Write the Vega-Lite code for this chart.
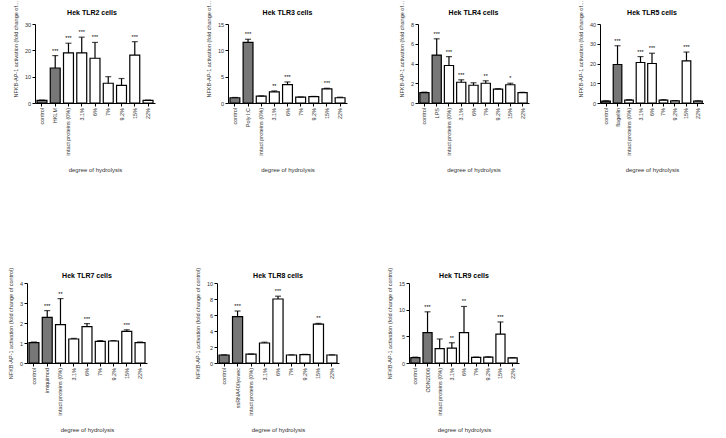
{
  "$schema": "https://vega.github.io/schema/vega-lite/v6.json",
  "padding": {"left": 8, "top": 0, "right": 0, "bottom": 0},
  "background": "white",
  "data": {"values": [
    {"p": "TLR2", "lab": "control", "v": 1.0, "e": 1.1, "s": "", "t": "ctrl"},
    {"p": "TLR2", "lab": "HKLM", "v": 13.3, "e": 18, "s": "***", "t": "ctrl"},
    {"p": "TLR2", "lab": "intact proteins (0%)", "v": 19, "e": 22.7, "s": "***", "t": "sample"},
    {"p": "TLR2", "lab": "3.1%", "v": 19, "e": 25, "s": "***", "t": "sample"},
    {"p": "TLR2", "lab": "6%", "v": 17, "e": 23, "s": "***", "t": "sample"},
    {"p": "TLR2", "lab": "7%", "v": 7.5, "e": 10, "s": "", "t": "sample"},
    {"p": "TLR2", "lab": "9.2%", "v": 6.7, "e": 9.3, "s": "", "t": "sample"},
    {"p": "TLR2", "lab": "15%", "v": 18.2, "e": 23.3, "s": "***", "t": "sample"},
    {"p": "TLR2", "lab": "22%", "v": 1.0, "e": 1.1, "s": "", "t": "sample"},

    {"p": "TLR3", "lab": "control", "v": 1.0, "e": 1.05, "s": "", "t": "ctrl"},
    {"p": "TLR3", "lab": "Poly I:C", "v": 11.5, "e": 12.1, "s": "***", "t": "ctrl"},
    {"p": "TLR3", "lab": "intact proteins (0%)", "v": 1.3, "e": 1.35, "s": "", "t": "sample"},
    {"p": "TLR3", "lab": "3.1%", "v": 2.1, "e": 2.3, "s": "**", "t": "sample"},
    {"p": "TLR3", "lab": "6%", "v": 3.5, "e": 4.0, "s": "***", "t": "sample"},
    {"p": "TLR3", "lab": "7%", "v": 1.1, "e": 1.15, "s": "", "t": "sample"},
    {"p": "TLR3", "lab": "9.2%", "v": 1.2, "e": 1.25, "s": "", "t": "sample"},
    {"p": "TLR3", "lab": "15%", "v": 2.7, "e": 2.8, "s": "***", "t": "sample"},
    {"p": "TLR3", "lab": "22%", "v": 1.0, "e": 1.1, "s": "", "t": "sample"},

    {"p": "TLR4", "lab": "control", "v": 1.05, "e": 1.1, "s": "", "t": "ctrl"},
    {"p": "TLR4", "lab": "LPS", "v": 4.85, "e": 6.5, "s": "***", "t": "ctrl"},
    {"p": "TLR4", "lab": "intact proteins (0%)", "v": 3.8, "e": 4.7, "s": "***", "t": "sample"},
    {"p": "TLR4", "lab": "3.1%", "v": 2.1, "e": 2.35, "s": "***", "t": "sample"},
    {"p": "TLR4", "lab": "6%", "v": 1.8, "e": 2.05, "s": "", "t": "sample"},
    {"p": "TLR4", "lab": "7%", "v": 2.0, "e": 2.25, "s": "**", "t": "sample"},
    {"p": "TLR4", "lab": "9.2%", "v": 1.4, "e": 1.45, "s": "", "t": "sample"},
    {"p": "TLR4", "lab": "15%", "v": 1.85, "e": 2.0, "s": "*", "t": "sample"},
    {"p": "TLR4", "lab": "22%", "v": 1.05, "e": 1.08, "s": "", "t": "sample"},

    {"p": "TLR5", "lab": "control", "v": 1.0, "e": 1.1, "s": "", "t": "ctrl"},
    {"p": "TLR5", "lab": "flagellin", "v": 19.5, "e": 29, "s": "***", "t": "ctrl"},
    {"p": "TLR5", "lab": "intact proteins (0%)", "v": 1.5, "e": 1.7, "s": "", "t": "sample"},
    {"p": "TLR5", "lab": "3.1%", "v": 20.5, "e": 23.5, "s": "***", "t": "sample"},
    {"p": "TLR5", "lab": "6%", "v": 20, "e": 25.2, "s": "***", "t": "sample"},
    {"p": "TLR5", "lab": "7%", "v": 1.5, "e": 1.7, "s": "", "t": "sample"},
    {"p": "TLR5", "lab": "9.2%", "v": 1.1, "e": 1.2, "s": "", "t": "sample"},
    {"p": "TLR5", "lab": "15%", "v": 21.3, "e": 25.8, "s": "***", "t": "sample"},
    {"p": "TLR5", "lab": "22%", "v": 1.0, "e": 1.1, "s": "", "t": "sample"},

    {"p": "TLR7", "lab": "control", "v": 1.02, "e": 1.05, "s": "", "t": "ctrl"},
    {"p": "TLR7", "lab": "imiquimod", "v": 2.28, "e": 2.62, "s": "***", "t": "ctrl"},
    {"p": "TLR7", "lab": "intact proteins (0%)", "v": 1.92, "e": 3.22, "s": "**", "t": "sample"},
    {"p": "TLR7", "lab": "3.1%", "v": 1.2, "e": 1.23, "s": "", "t": "sample"},
    {"p": "TLR7", "lab": "6%", "v": 1.82, "e": 1.97, "s": "***", "t": "sample"},
    {"p": "TLR7", "lab": "7%", "v": 1.08, "e": 1.12, "s": "", "t": "sample"},
    {"p": "TLR7", "lab": "9.2%", "v": 1.1, "e": 1.12, "s": "", "t": "sample"},
    {"p": "TLR7", "lab": "15%", "v": 1.58, "e": 1.66, "s": "***", "t": "sample"},
    {"p": "TLR7", "lab": "22%", "v": 1.02, "e": 1.05, "s": "", "t": "sample"},

    {"p": "TLR8", "lab": "control", "v": 1.0, "e": 1.02, "s": "", "t": "ctrl"},
    {"p": "TLR8", "lab": "ssRNA40/lyovec", "v": 5.8, "e": 6.5, "s": "***", "t": "ctrl"},
    {"p": "TLR8", "lab": "intact proteins (0%)", "v": 1.1, "e": 1.12, "s": "", "t": "sample"},
    {"p": "TLR8", "lab": "3.1%", "v": 2.5, "e": 2.6, "s": "", "t": "sample"},
    {"p": "TLR8", "lab": "6%", "v": 8.0, "e": 8.35, "s": "***", "t": "sample"},
    {"p": "TLR8", "lab": "7%", "v": 1.0, "e": 1.02, "s": "", "t": "sample"},
    {"p": "TLR8", "lab": "9.2%", "v": 1.05, "e": 1.08, "s": "", "t": "sample"},
    {"p": "TLR8", "lab": "15%", "v": 4.85, "e": 4.95, "s": "**", "t": "sample"},
    {"p": "TLR8", "lab": "22%", "v": 1.0, "e": 1.02, "s": "", "t": "sample"},

    {"p": "TLR9", "lab": "control", "v": 1.0, "e": 1.1, "s": "", "t": "ctrl"},
    {"p": "TLR9", "lab": "ODN2006", "v": 5.7, "e": 9.6, "s": "***", "t": "ctrl"},
    {"p": "TLR9", "lab": "intact proteins (0%)", "v": 2.7, "e": 4.5, "s": "", "t": "sample"},
    {"p": "TLR9", "lab": "3.1%", "v": 2.8, "e": 3.8, "s": "**", "t": "sample"},
    {"p": "TLR9", "lab": "6%", "v": 5.7, "e": 10.6, "s": "**", "t": "sample"},
    {"p": "TLR9", "lab": "7%", "v": 1.05, "e": 1.1, "s": "", "t": "sample"},
    {"p": "TLR9", "lab": "9.2%", "v": 1.1, "e": 1.15, "s": "", "t": "sample"},
    {"p": "TLR9", "lab": "15%", "v": 5.4, "e": 7.7, "s": "***", "t": "sample"},
    {"p": "TLR9", "lab": "22%", "v": 0.95, "e": 1.0, "s": "", "t": "sample"}
  ]},
  "vconcat": [
    {
      "hconcat": [
        {
          "width": 130, "height": 79,
          "title": "Hek TLR2 cells",
          "transform": [{"filter": "datum.p == 'TLR2'"}],
          "encoding": {
            "x": {"field": "lab", "type": "nominal", "sort": null, "scale": {"range": [8, 128], "paddingInner": 0.25, "paddingOuter": 0.15}, "axis": {"title": "degree of hydrolysis"}},
            "y": {"field": "v", "type": "quantitative", "scale": {"domain": [0, 30], "nice": false}, "axis": {"values": [0, 10, 20, 30], "offset": -8, "titleY": 73, "titleAlign": "left", "titleLimit": 97, "title": "NFKB-AP-1 activation (fold change of control)"}}
          },
          "layer": [
            {"mark": {"type": "bar", "stroke": "black", "strokeWidth": 1.2},
             "encoding": {"fill": {"field": "t", "type": "nominal", "scale": {"domain": ["ctrl", "sample"], "range": ["#777777", "#ffffff"]}, "legend": null}}},
            {"mark": {"type": "rule", "color": "black", "strokeWidth": 1.2}, "encoding": {"y2": {"field": "e"}}},
            {"mark": {"type": "tick", "color": "black", "size": 6, "thickness": 1.2}, "encoding": {"y": {"field": "e", "type": "quantitative", "axis": {"values": [0, 10, 20, 30], "offset": -8, "titleY": 73, "titleAlign": "left", "titleLimit": 97, "title": "NFKB-AP-1 activation (fold change of control)"}}}},
            {"mark": {"type": "text", "fontSize": 5.5, "dy": -3, "baseline": "alphabetic", "color": "black"}, "encoding": {"y": {"field": "e", "type": "quantitative", "axis": {"values": [0, 10, 20, 30], "offset": -8, "titleY": 73, "titleAlign": "left", "titleLimit": 97, "title": "NFKB-AP-1 activation (fold change of control)"}}, "text": {"field": "s"}}}
          ]
        },
        {
          "width": 119, "height": 79,
          "title": "Hek TLR3 cells",
          "transform": [{"filter": "datum.p == 'TLR3'"}],
          "encoding": {
            "x": {"field": "lab", "type": "nominal", "sort": null, "scale": {"paddingInner": 0.25, "paddingOuter": 0.15}, "axis": {"title": "degree of hydrolysis"}},
            "y": {"field": "v", "type": "quantitative", "scale": {"domain": [0, 15], "nice": false}, "axis": {"values": [0, 5, 10, 15], "titleY": 73, "titleAlign": "left", "titleLimit": 97, "title": "NFKB-AP-1 activation (fold change of control)"}}
          },
          "layer": [
            {"mark": {"type": "bar", "stroke": "black", "strokeWidth": 1.2},
             "encoding": {"fill": {"field": "t", "type": "nominal", "scale": {"domain": ["ctrl", "sample"], "range": ["#777777", "#ffffff"]}, "legend": null}}},
            {"mark": {"type": "rule", "color": "black", "strokeWidth": 1.2}, "encoding": {"y2": {"field": "e"}}},
            {"mark": {"type": "tick", "color": "black", "size": 6, "thickness": 1.2}, "encoding": {"y": {"field": "e", "type": "quantitative", "axis": {"values": [0, 5, 10, 15], "titleY": 73, "titleAlign": "left", "titleLimit": 97, "title": "NFKB-AP-1 activation (fold change of control)"}}}},
            {"mark": {"type": "text", "fontSize": 5.5, "dy": -3, "baseline": "alphabetic", "color": "black"}, "encoding": {"y": {"field": "e", "type": "quantitative", "axis": {"values": [0, 5, 10, 15], "titleY": 73, "titleAlign": "left", "titleLimit": 97, "title": "NFKB-AP-1 activation (fold change of control)"}}, "text": {"field": "s"}}}
          ]
        },
        {
          "width": 111, "height": 79,
          "title": "Hek TLR4 cells",
          "transform": [{"filter": "datum.p == 'TLR4'"}],
          "encoding": {
            "x": {"field": "lab", "type": "nominal", "sort": null, "scale": {"paddingInner": 0.25, "paddingOuter": 0.15}, "axis": {"title": "degree of hydrolysis"}},
            "y": {"field": "v", "type": "quantitative", "scale": {"domain": [0, 8], "nice": false}, "axis": {"values": [0, 2, 4, 6, 8], "titleY": 73, "titleAlign": "left", "titleLimit": 97, "title": "NFKB-AP-1 activation (fold change of control)"}}
          },
          "layer": [
            {"mark": {"type": "bar", "stroke": "black", "strokeWidth": 1.2},
             "encoding": {"fill": {"field": "t", "type": "nominal", "scale": {"domain": ["ctrl", "sample"], "range": ["#777777", "#ffffff"]}, "legend": null}}},
            {"mark": {"type": "rule", "color": "black", "strokeWidth": 1.2}, "encoding": {"y2": {"field": "e"}}},
            {"mark": {"type": "tick", "color": "black", "size": 6, "thickness": 1.2}, "encoding": {"y": {"field": "e", "type": "quantitative", "axis": {"values": [0, 2, 4, 6, 8], "titleY": 73, "titleAlign": "left", "titleLimit": 97, "title": "NFKB-AP-1 activation (fold change of control)"}}}},
            {"mark": {"type": "text", "fontSize": 5.5, "dy": -3, "baseline": "alphabetic", "color": "black"}, "encoding": {"y": {"field": "e", "type": "quantitative", "axis": {"values": [0, 2, 4, 6, 8], "titleY": 73, "titleAlign": "left", "titleLimit": 97, "title": "NFKB-AP-1 activation (fold change of control)"}}, "text": {"field": "s"}}}
          ]
        },
        {
          "width": 104, "height": 79,
          "title": "Hek TLR5 cells",
          "transform": [{"filter": "datum.p == 'TLR5'"}],
          "encoding": {
            "x": {"field": "lab", "type": "nominal", "sort": null, "scale": {"paddingInner": 0.25, "paddingOuter": 0.15}, "axis": {"title": "degree of hydrolysis"}},
            "y": {"field": "v", "type": "quantitative", "scale": {"domain": [0, 40], "nice": false}, "axis": {"values": [0, 10, 20, 30, 40], "titleY": 73, "titleAlign": "left", "titleLimit": 97, "title": "NFKB-AP-1 activation (fold change of control)"}}
          },
          "layer": [
            {"mark": {"type": "bar", "stroke": "black", "strokeWidth": 1.2},
             "encoding": {"fill": {"field": "t", "type": "nominal", "scale": {"domain": ["ctrl", "sample"], "range": ["#777777", "#ffffff"]}, "legend": null}}},
            {"mark": {"type": "rule", "color": "black", "strokeWidth": 1.2}, "encoding": {"y2": {"field": "e"}}},
            {"mark": {"type": "tick", "color": "black", "size": 6, "thickness": 1.2}, "encoding": {"y": {"field": "e", "type": "quantitative", "axis": {"values": [0, 10, 20, 30, 40], "titleY": 73, "titleAlign": "left", "titleLimit": 97, "title": "NFKB-AP-1 activation (fold change of control)"}}}},
            {"mark": {"type": "text", "fontSize": 5.5, "dy": -3, "baseline": "alphabetic", "color": "black"}, "encoding": {"y": {"field": "e", "type": "quantitative", "axis": {"values": [0, 10, 20, 30, 40], "titleY": 73, "titleAlign": "left", "titleLimit": 97, "title": "NFKB-AP-1 activation (fold change of control)"}}, "text": {"field": "s"}}}
          ]
        }
      ],
      "spacing": 71,
      "bounds": "flush"
    },
    {
      "hconcat": [
        {
          "width": 120, "height": 80,
          "title": {"text": "Hek TLR7 cells", "offset": -12},
          "transform": [{"filter": "datum.p == 'TLR7'"}],
          "encoding": {
            "x": {"field": "lab", "type": "nominal", "sort": null, "scale": {"paddingInner": 0.25, "paddingOuter": 0.15}, "axis": {"title": "degree of hydrolysis"}},
            "y": {"field": "v", "type": "quantitative", "scale": {"domain": [0, 4], "nice": false}, "axis": {"values": [0, 1, 2, 3, 4], "title": "NFKB-AP-1 activation (fold change of control)"}}
          },
          "layer": [
            {"mark": {"type": "bar", "stroke": "black", "strokeWidth": 1.2},
             "encoding": {"fill": {"field": "t", "type": "nominal", "scale": {"domain": ["ctrl", "sample"], "range": ["#777777", "#ffffff"]}, "legend": null}}},
            {"mark": {"type": "rule", "color": "black", "strokeWidth": 1.2}, "encoding": {"y2": {"field": "e"}}},
            {"mark": {"type": "tick", "color": "black", "size": 6, "thickness": 1.2}, "encoding": {"y": {"field": "e", "type": "quantitative", "axis": {"values": [0, 1, 2, 3, 4], "title": "NFKB-AP-1 activation (fold change of control)"}}}},
            {"mark": {"type": "text", "fontSize": 5.5, "dy": -3, "baseline": "alphabetic", "color": "black"}, "encoding": {"y": {"field": "e", "type": "quantitative", "axis": {"values": [0, 1, 2, 3, 4], "title": "NFKB-AP-1 activation (fold change of control)"}}, "text": {"field": "s"}}}
          ]
        },
        {
          "width": 122, "height": 80,
          "title": {"text": "Hek TLR8 cells", "offset": -12},
          "transform": [{"filter": "datum.p == 'TLR8'"}],
          "encoding": {
            "x": {"field": "lab", "type": "nominal", "sort": null, "scale": {"paddingInner": 0.25, "paddingOuter": 0.15}, "axis": {"title": "degree of hydrolysis"}},
            "y": {"field": "v", "type": "quantitative", "scale": {"domain": [0, 10], "nice": false}, "axis": {"values": [0, 2, 4, 6, 8, 10], "title": "NFKB-AP-1 activation (fold change of control)"}}
          },
          "layer": [
            {"mark": {"type": "bar", "stroke": "black", "strokeWidth": 1.2},
             "encoding": {"fill": {"field": "t", "type": "nominal", "scale": {"domain": ["ctrl", "sample"], "range": ["#777777", "#ffffff"]}, "legend": null}}},
            {"mark": {"type": "rule", "color": "black", "strokeWidth": 1.2}, "encoding": {"y2": {"field": "e"}}},
            {"mark": {"type": "tick", "color": "black", "size": 6, "thickness": 1.2}, "encoding": {"y": {"field": "e", "type": "quantitative", "axis": {"values": [0, 2, 4, 6, 8, 10], "title": "NFKB-AP-1 activation (fold change of control)"}}}},
            {"mark": {"type": "text", "fontSize": 5.5, "dy": -3, "baseline": "alphabetic", "color": "black"}, "encoding": {"y": {"field": "e", "type": "quantitative", "axis": {"values": [0, 2, 4, 6, 8, 10], "title": "NFKB-AP-1 activation (fold change of control)"}}, "text": {"field": "s"}}}
          ]
        },
        {
          "width": 110, "height": 80,
          "title": {"text": "Hek TLR9 cells", "offset": -12},
          "transform": [{"filter": "datum.p == 'TLR9'"}],
          "encoding": {
            "x": {"field": "lab", "type": "nominal", "sort": null, "scale": {"paddingInner": 0.25, "paddingOuter": 0.15}, "axis": {"title": "degree of hydrolysis"}},
            "y": {"field": "v", "type": "quantitative", "scale": {"domain": [0, 15], "nice": false}, "axis": {"values": [0, 5, 10, 15], "title": "NFKB-AP-1 activation (fold change of control)"}}
          },
          "layer": [
            {"mark": {"type": "bar", "stroke": "black", "strokeWidth": 1.2},
             "encoding": {"fill": {"field": "t", "type": "nominal", "scale": {"domain": ["ctrl", "sample"], "range": ["#777777", "#ffffff"]}, "legend": null}}},
            {"mark": {"type": "rule", "color": "black", "strokeWidth": 1.2}, "encoding": {"y2": {"field": "e"}}},
            {"mark": {"type": "tick", "color": "black", "size": 6, "thickness": 1.2}, "encoding": {"y": {"field": "e", "type": "quantitative", "axis": {"values": [0, 5, 10, 15], "title": "NFKB-AP-1 activation (fold change of control)"}}}},
            {"mark": {"type": "text", "fontSize": 5.5, "dy": -3, "baseline": "alphabetic", "color": "black"}, "encoding": {"y": {"field": "e", "type": "quantitative", "axis": {"values": [0, 5, 10, 15], "title": "NFKB-AP-1 activation (fold change of control)"}}, "text": {"field": "s"}}}
          ]
        }
      ],
      "spacing": 70,
      "bounds": "flush"
    }
  ],
  "spacing": 259,
  "bounds": "flush",
  "config": {
    "font": "Liberation Sans",
    "view": {"stroke": null},
    "axis": {"grid": false, "domainColor": "black", "domainWidth": 1, "tickColor": "black", "tickSize": 3, "labelFontSize": 5.5, "labelColor": "#333333", "labelPadding": 1.5, "labelOverlap": false, "labelFlush": false, "titleFontSize": 5.5, "titleFontWeight": "normal", "titleColor": "#333333", "titlePadding": 6, "labelFont": "Liberation Sans", "titleFont": "Liberation Sans"},
    "axisX": {"labelAngle": -90, "titleFontSize": 6, "titlePadding": 12},
    "title": {"fontSize": 7, "fontWeight": "bold", "font": "Liberation Sans", "offset": -16, "color": "black", "frame": "group"}
  }
}
